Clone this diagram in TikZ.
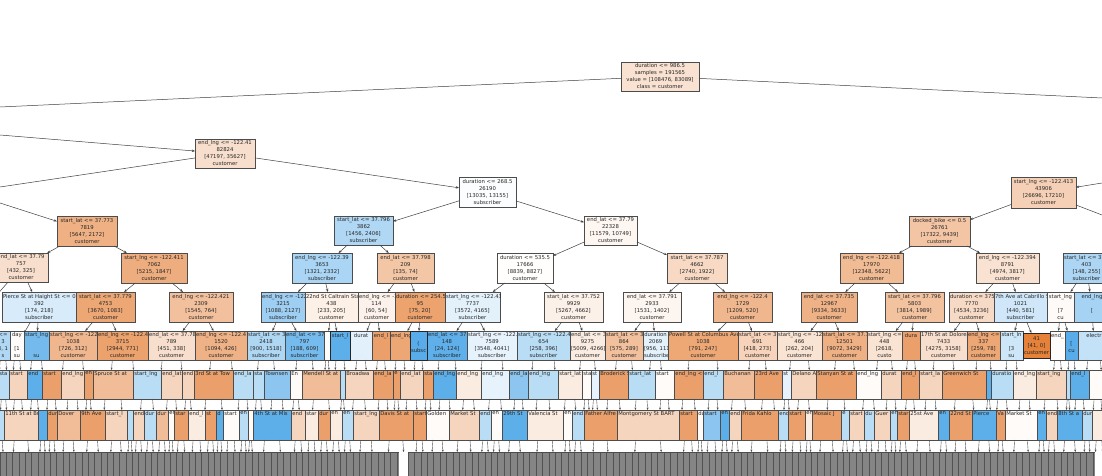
\documentclass[tikz,border=0pt]{standalone}
\usepackage{fontspec}
\newfontfamily\dv{DejaVu Sans}
\usetikzlibrary{arrows.meta,calc}
\definecolor{orC}{HTML}{E58139}
\definecolor{blC}{HTML}{399DE5}
\colorlet{cO}{orC!75}
\colorlet{co}{orC!52}
\colorlet{clo}{orC!33}
\colorlet{cl}{orC!15}
\colorlet{cw}{orC!3}
\colorlet{cvlb}{blC!12}
\colorlet{clb}{blC!35}
\colorlet{cb}{blC!58}
\colorlet{cB}{blC!82}
\newcommand\nodefont{\dv\fontsize{5.3}{7}\selectfont\hyphenpenalty=10000 \exhyphenpenalty=10000 }
\tikzset{
 box/.style={draw=black!70, line width=0.45pt, inner sep=0pt, outer sep=0pt},
 ln/.style={draw=black!75, line width=0.5pt},
 edge/.style={ln, -{Stealth[length=3.2pt,width=2.4pt]}},
 sarr/.style={draw=black!70, line width=0.4pt, -{Stealth[length=2.4pt,width=1.9pt]}},
 ttx/.style={font=\nodefont, text=black!85, align=center, inner sep=0.8pt},
 tlx/.style={font=\nodefont, text=black!85, align=left, inner sep=0.6pt, anchor=north west},
 thick box/.style={draw=black!85, line width=0.9pt},
}
% name x1 y1 x2 y2 fill text
\newcommand\nd[7]{%
 \pgfmathsetmacro\ndcx{(#2+#4)/2}%
 \pgfmathsetmacro\ndcy{(#3+#5)/2}%
 \pgfmathsetmacro\ndw{#4-#2}%
 \pgfmathsetmacro\ndh{#5-#3}%
 \pgfmathsetmacro\ndtw{max(#4-#2-2,1)}%
 \node[box,fill=#6,minimum width=\ndw pt,minimum height=\ndh pt] (#1) at (\ndcx,\ndcy) {};
 \begin{scope}
  \clip (#1.south west) rectangle (#1.north east);
  \node[ttx,text width=\ndtw pt] at (#1.center) {#7};
 \end{scope}}
% box with a label in its top-left corner
\newcommand\ndl[7]{%
 \pgfmathsetmacro\ndcx{(#2+#4)/2}%
 \pgfmathsetmacro\ndcy{(#3+#5)/2}%
 \pgfmathsetmacro\ndw{#4-#2}%
 \pgfmathsetmacro\ndh{#5-#3}%
 \node[box,fill=#6,minimum width=\ndw pt,minimum height=\ndh pt] (#1) at (\ndcx,\ndcy) {};
 \begin{scope}
  \clip (#1.south west) rectangle (#1.north east);
  \node[tlx] at ([xshift=0.5pt,yshift=-0.8pt]#1.north west) {#7};
 \end{scope}}
\newcommand\kids[2]{%
 \draw[sarr] ($(#1.south west)!0.3!(#1.south east)$) -- ++(-0.8,#2);
 \draw[sarr] ($(#1.south west)!0.7!(#1.south east)$) -- ++(0.8,#2);}
\begin{document}
\begin{tikzpicture}[x=1pt,y=-1pt]
\path[use as bounding box] (0,0) rectangle (1102,476);
\fill[white] (0,0) rectangle (1102,476);
\clip (0,0) rectangle (1102,476);

% ---- levels 0-2 ----
\nd{root}{621}{62}{699}{91}{orC!23}{duration~<=~986.5\\samples~=~191565\\value~=~[108476,~83089]\\class~=~customer}
\nd{endlng}{195}{139}{255}{168}{orC!25}{end\_lng~<=~-122.41\\82824\\{}[47197,~35627]\\customer}
\nd{dur268}{459}{177}{516}{207}{blC!2}{duration~<=~268.5\\26190\\{}[13035,~13155]\\subscriber}
\nd{sg413}{1011}{177}{1076}{208}{orC!37}{start\_lng~<=~-122.413\\43906\\{}[26696,~17210]\\customer}
\nd{sl773}{57}{216}{117}{246}{orC!62}{start\_lat~<=~37.773\\7819\\{}[5647,~2172]\\customer}
\nd{sl796}{334}{216}{393}{245}{blC!40}{start\_lat~<=~37.796\\3862\\{}[1456,~2406]\\subscriber}
\nd{el79b}{584}{216}{637}{245}{orC!7}{end\_lat~<=~37.79\\22328\\{}[11579,~10749]\\customer}
\nd{dock}{909}{216}{970}{246}{orC!46}{docked\_bike~<=~0.5\\26761\\{}[17322,~9439]\\customer}
\nd{el79a}{-6}{253}{48}{282}{orC!25}{end\_lat~<=~37.79\\757\\{}[432,~325]\\customer}
\nd{sg411}{121}{253}{187}{283}{orC!65}{start\_lng~<=~-122.411\\7062\\{}[5215,~1847]\\customer}
\nd{el39}{292}{253}{352}{283}{blC!43}{end\_lng~<=~-122.39\\3653\\{}[1321,~2332]\\subscriber}
\nd{el798}{377}{253}{434}{283}{orC!45}{end\_lat~<=~37.798\\209\\{}[135,~74]\\customer}
\nd{d535}{497}{253}{553}{283}{orC!1}{duration~<=~535.5\\17666\\{}[8839,~8827]\\customer}
\nd{sl787}{667}{253}{727}{283}{orC!30}{start\_lat~<=~37.787\\4662\\{}[2740,~1922]\\customer}
\nd{el418}{840}{253}{903}{283}{orC!54}{end\_lng~<=~-122.418\\17970\\{}[12348,~5622]\\customer}
\nd{el394}{976}{253}{1039}{283}{orC!23}{end\_lng~<=~-122.394\\8791\\{}[4974,~3817]\\customer}
\nd{slbl}{1063}{253}{1110}{283}{blC!42}{start\_lat~<=~37.7\\403\\{}[148,~255]\\subscriber}

% ---- level 3 ----
\nd{pierce}{2}{292}{76}{322}{blC!20}{Pierce~St~at~Haight~St~<=~0.5\\392\\{}[174,~218]\\subscriber}
\nd{sl779}{76}{292}{135}{322}{orC!70}{start\_lat~<=~37.779\\4753\\{}[3670,~1083]\\customer}
\nd{eg421}{169}{292}{233}{322}{orC!50}{end\_lng~<=~-122.421\\2309\\{}[1545,~764]\\customer}
\nd{eg3215}{261}{292}{305}{322}{blC!49}{end\_lng~<=~-122.4\\3215\\{}[1088,~2127]\\subscriber}
\nd{c22}{305}{292}{358}{322}{orC!12}{22nd~St~Caltrain~Station~<=~0.5\\438\\{}[233,~205]\\customer}
\nd{eg114}{358}{292}{395}{322}{orC!10}{end\_lng~<=~-122.4\\114\\{}[60,~54]\\customer}
\nd{d254}{395}{292}{445}{322}{orC!73}{duration~<=~254.5\\95\\{}[75,~20]\\customer}
\nd{sg431}{445}{292}{500}{322}{blC!14}{start\_lng~<=~-122.431\\7737\\{}[3572,~4165]\\subscriber}
\nd{sl752}{544}{292}{603}{322}{orC!11}{start\_lat~<=~37.752\\9929\\{}[5267,~4662]\\customer}
\nd{el791}{623}{292}{681}{322}{orC!8}{end\_lat~<=~37.791\\2933\\{}[1531,~1402]\\customer}
\nd{eg4}{713}{292}{772}{322}{orC!57}{end\_lng~<=~-122.4\\1729\\{}[1209,~520]\\customer}
\nd{el735}{801}{292}{857}{322}{orC!61}{end\_lat~<=~37.735\\12967\\{}[9334,~3633]\\customer}
\nd{sl796b}{885}{292}{944}{322}{orC!48}{start\_lat~<=~37.796\\5803\\{}[3814,~1989]\\customer}
\nd{d7770}{949}{292}{994}{322}{orC!29}{duration~<=~375.5\\7770\\{}[4534,~3236]\\customer}
\nd{ave7}{994}{292}{1047}{322}{blC!24}{7th~Ave~at~Cabrillo~St~<=~0.5\\1021\\{}[440,~581]\\subscriber}
\nd{sgw}{1047}{292}{1074}{322}{orC!4}{start\_lng\\~\\{}[7\\cu}
\nd{egb}{1074}{292}{1110}{322}{blC!45}{end\_lng\\~\\{}[\\~}

% ---- level 4 ----
\nd{r4a}{-4}{331}{10}{360}{blC!40}{<=\\3\\8,~1\\s}
\nd{r4b}{10}{331}{24}{360}{orC!2}{day\\~\\{}[1\\su}
\nd{r4c}{24}{331}{49}{360}{blC!70}{start\_lng\\~\\~\\su}
\nd{r4d}{49}{331}{97}{360}{orC!57}{start\_lng~<=~-122.4\\1038\\{}[726,~312]\\customer}
\nd{r4e}{97}{331}{148}{360}{orC!74}{end\_lng~<=~-122.4\\3715\\{}[2944,~771]\\customer}
\nd{r4f}{148}{331}{195}{360}{orC!25}{end\_lat~<=~37.78\\789\\{}[451,~338]\\customer}
\nd{r4g}{195}{331}{247}{360}{orC!61}{end\_lng~<=~-122.4\\1520\\{}[1094,~426]\\customer}
\nd{r4h}{247}{331}{285}{360}{blC!41}{start\_lat~<=~37.8\\2418\\{}[900,~1518]\\subscriber}
\nd{r4i}{285}{331}{324}{360}{blC!69}{end\_lat~<=~37.8\\797\\{}[188,~609]\\subscriber}
\nd{r4j}{324}{331}{330}{360}{orC!2}{~}
\nd{r4k}{330}{331}{350}{360}{blC!82}{start\_l\\~\\~\\~}
\nd{r4l}{350}{331}{372}{360}{blC!15}{durat\\~\\~\\~}
\nd{r4m}{372}{331}{390}{360}{orC!75}{end\_l\\~\\~\\~}
\nd{r4n}{390}{331}{410}{360}{orC!70}{end\_lng\\~\\~\\~}
\nd{r4o}{410}{331}{427}{360}{blC!85}{~\\(\\subsc}
\nd{r4p}{427}{331}{467}{360}{blC!81}{end\_lat~<=~37.8\\148\\{}[24,~124]\\subscriber}
\nd{r4q}{467}{331}{517}{360}{blC!12}{start\_lng~<=~-122.4\\7589\\{}[3548,~4041]\\subscriber}
\nd{r4r}{517}{331}{570}{360}{blC!35}{start\_lng~<=~-122.4\\654\\{}[258,~396]\\subscriber}
\nd{r4s}{570}{331}{605}{360}{orC!15}{end\_lat~<=~37.7\\9275\\{}[5009,~4266]\\customer}
\nd{r4t}{605}{331}{643}{360}{orC!50}{start\_lat~<=~37.7\\864\\{}[575,~289]\\customer}
\nd{r4u}{643}{331}{668}{360}{blC!14}{duration\\2069\\{}[956,~1113]\\subscriber}
\nd{r4v}{668}{331}{738}{360}{orC!69}{Powell~St~at~Columbus~Ave~<=~0.5\\1038\\{}[791,~247]\\customer}
\nd{r4w}{738}{331}{777}{360}{orC!35}{start\_lat~<=~37.8\\691\\{}[418,~273]\\customer}
\nd{r4x}{777}{331}{822}{360}{orC!22}{start\_lng~<=~-122.4\\466\\{}[262,~204]\\customer}
\nd{r4y}{822}{331}{867}{360}{orC!62}{start\_lat~<=~37.7\\12501\\{}[9072,~3429]\\customer}
\nd{r4z}{867}{331}{902}{360}{orC!22}{start\_lng~<=\\448\\{}[2618,\\custo}
\nd{r4aa}{902}{331}{920}{360}{orC!75}{dura\\~\\~\\~}
\nd{r4bb}{920}{331}{967}{360}{orC!26}{17th~St~at~Dolores~St~<=~0.5\\7433\\{}[4275,~3158]\\customer}
\nd{r4cc}{967}{331}{1000}{360}{orC!70}{end\_lng~<=\\337\\{}[259,~78]\\customer}
\nd{r4dd}{1000}{331}{1023}{360}{blC!25}{start\_ln\\~\\{}[3\\su}
\nd{r4ee}{1023}{333}{1050}{358}{orC}{41\\{}[41,~0]\\customer}
\nd{r4ff}{1050}{331}{1065}{360}{orC!2}{end\_\\~\\~\\~}
\nd{r4gg}{1065}{331}{1078}{360}{blC!85}{~\\{}[\\cu}
\nd{r4hh}{1078}{331}{1110}{360}{blC!30}{electr\\~\\~\\~}
\draw[thick box] (r4k.south west) rectangle (r4k.north east);
\draw[thick box] (r4o.south west) rectangle (r4o.north east);
\draw[thick box] (r4ee.south west) rectangle (r4ee.north east);

% ---- edges, upper levels ----
\coordinate (rL) at (0,107);
\coordinate (rR) at (1102,98);
\draw[ln] (root) -- (rL);
\draw[ln] (root) -- (rR);
\coordinate (pE) at (0,135);
\coordinate (eL) at (0,187);
\coordinate (pS) at (0,203);
\draw[edge] (pE) -- (endlng);
\draw[ln] (endlng) -- (eL);
\draw[edge] (endlng) -- (dur268);
\draw[edge] (pS) -- (sl773);
\draw[edge] (sl773) -- (el79a);
\draw[edge] (sl773) -- (sg411);
\draw[edge] (dur268) -- (sl796);
\draw[edge] (dur268) -- (el79b);
\draw[edge] (sl796) -- (el39);
\draw[edge] (sl796) -- (el798);
\draw[edge] (el79b) -- (d535);
\draw[edge] (el79b) -- (sl787);
\coordinate (pG) at (1102,183);
\coordinate (gR) at (1102,215);
\coordinate (pB) at (1143,231);
\draw[edge] (pG) -- (sg413);
\draw[ln] (sg413) -- (gR);
\draw[edge] (sg413) -- (dock);
\draw[edge] (dock) -- (el418);
\draw[edge] (dock) -- (el394);
\draw[edge] (pB) -- (slbl);
% level 2 -> 3
\coordinate (aL) at (-14,307);
\draw[edge] (el79a) -- (aL);
\draw[edge] (el79a) -- (pierce);
\draw[edge] (sg411) -- (sl779);
\draw[edge] (sg411) -- (eg421);
\draw[edge] (el39) -- (eg3215);
\draw[edge] (el39) -- (c22);
\draw[edge] (el798) -- (eg114);
\draw[edge] (el798) -- (d254);
\draw[edge] (d535) -- (sg431);
\draw[edge] (d535) -- (sl752);
\draw[edge] (sl787) -- (el791);
\draw[edge] (sl787) -- (eg4);
\draw[edge] (el418) -- (el735);
\draw[edge] (el418) -- (sl796b);
\draw[edge] (el394) -- (d7770);
\draw[edge] (el394) -- (ave7);
\draw[edge] (slbl) -- (sgw);
\draw[edge] (slbl) -- (egb);
% level 3 -> 4
\draw[edge] (aL) -- (r4a);
\foreach \p/\ca/\cb in {pierce/r4b/r4c, sl779/r4d/r4e, eg421/r4f/r4g, eg3215/r4h/r4i,
  c22/r4j/r4k, eg114/r4l/r4m, d254/r4n/r4o, sg431/r4p/r4q, sl752/r4r/r4s,
  el791/r4t/r4u, eg4/r4v/r4w, el735/r4x/r4y, sl796b/r4z/r4aa, d7770/r4bb/r4cc,
  ave7/r4dd/r4ee, sgw/r4ff/r4gg}{
  \draw[edge] (\p) -- (\ca);
  \draw[edge] (\p) -- (\cb);
}
\draw[edge] (egb) -- (r4hh);
% level 4 -> 5
\foreach \n in {r4a,r4b,r4c,r4d,r4e,r4f,r4g,r4h,r4i,r4j,r4k,r4l,r4m,r4n,r4o,r4p,r4q,r4r,r4s,
  r4t,r4u,r4v,r4w,r4x,r4y,r4z,r4aa,r4bb,r4cc,r4dd,r4ff,r4gg,r4hh}{\kids{\n}{10}}

% ---- level 5 ----
\foreach \xa/\xb/\cc/\lab in {-2/9/clb/sta, 9/27/clo/start, 27/42/cB/end, 42/61/cO/start,
  61/84/clo/end\_lng, 84/93/cO/en, 93/133/co/Spruce St at, 133/161/clb/start\_lng,
  161/182/clo/end\_lat, 182/194/clo/end, 194/233/cO/3rd St at Tow, 233/253/clb/end\_la,
  253/264/clb/sta, 264/290/cb/Townsen, 290/302/cw/En, 302/340/co/Mendell St at,
  340/345/clb/{}, 345/373/clo/Broadwa, 373/393/cO/end\_la, 393/400/cO/e, 400/423/clo/end\_lat,
  423/433/cO/sta, 433/456/cB/end\_lng, 456/481/cl/end\_lng, 481/509/cvlb/end\_lng,
  509/528/cb/end\_la, 528/558/clb/end\_lng, 558/582/cl/start\_lat, 582/591/cw/sta,
  591/599/cvlb/st, 599/628/cO/Broderick St, 628/655/clb/start\_lat, 655/674/cw/start,
  674/703/cO/end\_lng <=, 703/723/clb/end\_l, 723/754/co/Buchanan, 754/782/cO/23rd Ave,
  782/791/cvlb/st, 791/816/clo/Delano A, 816/856/cO/Stanyan St at, 856/881/cw/end\_lng,
  881/901/clo/durat, 901/919/cO/end\_l, 919/942/clo/start\_la, 942/986/cO/Greenwich St,
  986/991/cB/{}, 991/1013/clb/duratio, 1013/1036/cl/end\_lng, 1036/1066/clo/start\_lng,
  1066/1070/clb/{}, 1070/1089/cB/end\_l, 1089/1106/cw/{}}{
  \ndl{r5n\xa}{\xa}{370}{\xb}{399}{\cc}{\lab}
  \kids{r5n\xa}{11}
}

% ---- level 6 ----
\foreach \xa/\xb/\cc/\lab in {-2/4/clb/{}, 4/38/clo/11th St at Bro, 38/47/cB/{}, 47/57/cO/dur,
  57/80/co/Dover, 80/105/cO/9th Ave, 105/127/clo/start\_l, 127/133/clb/{}, 133/144/clo/end,
  144/156/clb/dur, 156/168/co/dur, 168/174/cw/en, 174/188/cO/star, 188/205/cl/end\_l,
  205/216/cO/st, 216/223/cB/d, 223/239/cw/start, 239/248/clb/en, 248/253/cw/{},
  253/291/cB/4th St at Mis, 291/305/clo/end, 305/318/cl/star, 318/330/cO/dur, 330/342/cl/en,
  342/353/clb/en, 353/379/clo/start\_lng, 379/413/cO/Davis St at, 413/426/cO/start,
  426/449/cw/Golden, 449/479/clo/Market St, 479/491/clb/end, 491/502/cw/en, 502/527/cB/29th St,
  527/563/cl/Valencia St, 563/572/cw/en, 572/584/clb/end, 584/617/cO/Father Alfre,
  617/679/clo/Montgomery St BART, 679/697/cO/start, 697/703/cw/du, 703/720/cb/start,
  720/729/cB/en, 729/741/clo/end, 741/778/cO/Frida Kahlo, 778/788/clb/end, 788/805/cO/start,
  805/812/cl/en, 812/841/cO/Mosaic J, 841/849/clb/e, 849/864/clo/start, 864/874/clb/du,
  874/890/clo/Guer, 890/897/clb/en, 897/909/cO/star, 909/938/cl/25st Ave, 938/949/cB/en,
  949/972/cO/22nd St, 972/996/cB/Pierce, 996/1005/cO/Va, 1005/1037/cw/Market St,
  1037/1046/cB/en, 1046/1057/clo/end, 1057/1082/cB/8th St a, 1082/1092/clb/dur,
  1092/1106/cl/{}}{
  \ndl{r6n\xa}{\xa}{410}{\xb}{440}{\cc}{\lab}
  \kids{r6n\xa}{12}
}

% ---- truncated level (gray) ----
\fill[black!48] (0,452) rectangle (399,478);
\fill[black!48] (408,452) rectangle (1095,478);
\foreach \x in {0,6.3,...,399}{\draw[black!68,line width=0.5pt] (\x,452) -- (\x,478);}
\foreach \x in {408,414.4,...,1095}{\draw[black!68,line width=0.5pt] (\x,452) -- (\x,478);}
\draw[black!70,line width=0.5pt] (0,452) -- (399,452) (408,452) -- (1095,452);
\end{tikzpicture}
\end{document}
